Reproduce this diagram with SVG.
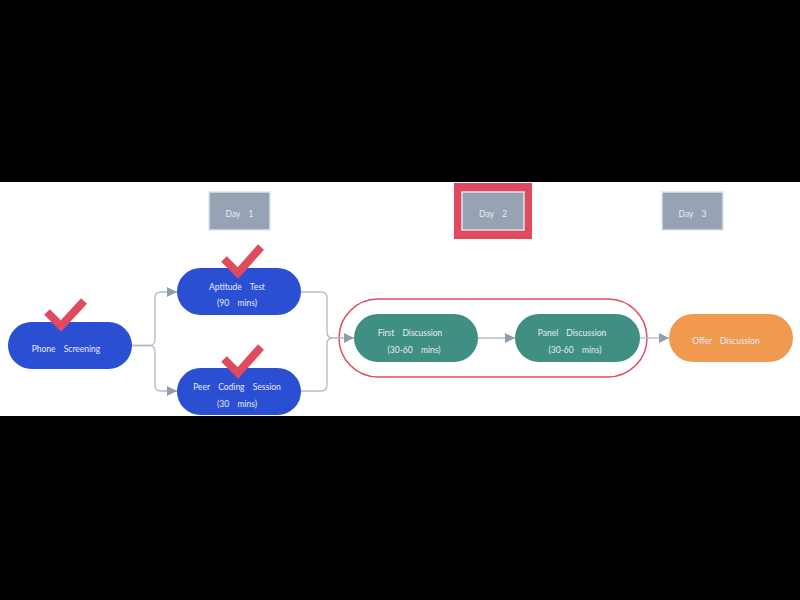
<svg xmlns="http://www.w3.org/2000/svg" width="800" height="600" viewBox="0 0 800 600">
<defs>
<style>
.t{font-family:"Lato","Open Sans",sans-serif;font-size:8.5px;fill:#e8ecf8;text-anchor:middle;word-spacing:6px}
.blue{fill:#2a4fd2}
.teal{fill:#3f8f82}
.day{fill:#97a2b4;stroke:#dfe3ea;stroke-width:1.5}
.chk{fill:none;stroke:#e04a5f;stroke-width:8;stroke-linejoin:miter}
.c{fill:none;stroke:#b3bac7;stroke-width:1.3}
</style>
<marker id="ah" viewBox="0 0 10 10" refX="10" refY="5" markerWidth="10" markerHeight="10" markerUnits="userSpaceOnUse" orient="auto">
<path d="M0,0 L10,5 L0,10 z" fill="#939cae"/>
</marker>
</defs>
<rect x="0" y="0" width="800" height="600" fill="#000"/>
<rect x="0" y="182" width="800" height="234" fill="#fff"/>

<g id="days">
<g id="day1"><rect class="day" x="209" y="192" width="61" height="38"/><text class="t" x="239.5" y="217">Day 1</text></g>
<g id="day2"><rect x="454" y="183" width="78" height="56" fill="#e04a5f"/><rect class="day" x="462" y="192" width="62" height="38" stroke="#f3f3f5"/><text class="t" x="493" y="217">Day 2</text></g>
<g id="day3"><rect class="day" x="662" y="192" width="61" height="38"/><text class="t" x="692.5" y="217">Day 3</text></g>
</g>

<g id="group-day2"><rect x="339" y="299" width="308" height="78" rx="39" fill="none" stroke="#e04a5f" stroke-width="1.5"/></g>

<g id="connectors">
<path class="c" d="M132,345.5 H149 Q155,345.5 155,339.5 V298 Q155,292 161,292 H177" marker-end="url(#ah)"/>
<path class="c" d="M132,345.5 H149 Q155,345.5 155,351.5 V385 Q155,391 161,391 H177" marker-end="url(#ah)"/>
<path class="c" d="M301,292 H321 Q327,292 327,298 V332 Q327,338 333,338 H354" marker-end="url(#ah)"/>
<path class="c" d="M301,391 H321 Q327,391 327,385 V344 Q327,338 333,338"/>
<path class="c" d="M478,338 H515" marker-end="url(#ah)"/>
<path class="c" d="M640,338 H669" marker-end="url(#ah)"/>
</g>

<g id="phone"><rect class="blue" x="8" y="322" width="124" height="47" rx="23.5"/><text class="t" x="66" y="352">Phone Screening</text>
<polyline class="chk" points="47,312 61,326 84,301"/></g>
<g id="aptitude"><rect class="blue" x="177" y="268" width="124" height="47" rx="23.5"/><text class="t" x="237" y="290">Aptitude Test</text><text class="t" x="237" y="306">(90 mins)</text>
<polyline class="chk" points="224,259 238,273 261,247"/></g>
<g id="peer"><rect class="blue" x="177" y="368" width="124" height="47" rx="23.5"/><text class="t" x="237" y="390">Peer Coding Session</text><text class="t" x="237" y="407">(30 mins)</text>
<polyline class="chk" points="224,359 238,373 261,347"/></g>
<g id="first"><rect class="teal" x="354" y="314" width="124" height="48" rx="24"/><text class="t" x="410" y="336">First Discussion</text><text class="t" x="414" y="353">(30-60 mins)</text></g>
<g id="panel"><rect class="teal" x="515" y="314" width="125" height="48" rx="24"/><text class="t" x="572" y="336">Panel Discussion</text><text class="t" x="575" y="353">(30-60 mins)</text></g>
<g id="offer"><rect fill="#ef9a4e" x="669" y="314" width="124" height="48" rx="24"/><text class="t" x="726" y="344">Offer Discussion</text></g>
</svg>
